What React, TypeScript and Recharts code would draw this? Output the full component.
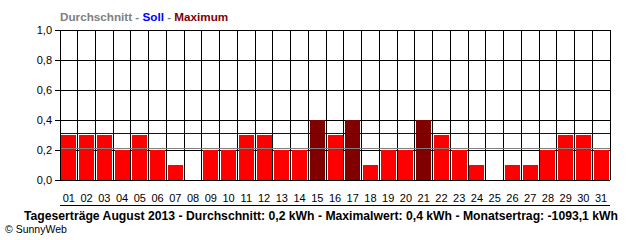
import { BarChart, Bar, Cell, XAxis, YAxis, CartesianGrid, ReferenceLine } from 'recharts';

const days = ['01', '02', '03', '04', '05', '06', '07', '08', '09', '10', '11', '12', '13', '14', '15', '16',
    '17', '18', '19', '20', '21', '22', '23', '24', '25', '26', '27', '28', '29', '30', '31'];
const yields = [0.3, 0.3, 0.3, 0.2, 0.3, 0.2, 0.1, 0, 0.2, 0.2, 0.3, 0.3, 0.2, 0.2, 0.4, 0.3,
    0.4, 0.1, 0.2, 0.2, 0.4, 0.3, 0.2, 0.1, 0, 0.1, 0.1, 0.2, 0.3, 0.3, 0.2];
const yTicks = [0, 0.2, 0.4, 0.6, 0.8, 1.0];
const average = 0.207;
const target = 0.309;
const maxValue = Math.max(...yields);

const data = days.map((day, i) => ({ day, pos: i + 0.5, value: yields[i] }));
// borders between the day cells, used for the vertical grid lines
const cellEdges = [...days.map((_, i) => i), days.length];

const fmt = (v: number) => v.toFixed(1).replace('.', ',');
const font = '"Liberation Sans", Arial, sans-serif';

export default function App() {
    return (
        <div style={{ position: 'absolute', left: 0, top: 0, width: 640, height: 240, background: '#fff' }}>
            <BarChart
                width={640}
                height={240}
                data={data}
                margin={{ top: 30, right: 30, left: 0, bottom: 30 }}
                barCategoryGap={1.4}
            >
                <CartesianGrid xAxisId="grid" vertical={false} stroke="#000" shapeRendering="crispEdges" />
                <XAxis
                    xAxisId="grid"
                    type="number"
                    dataKey="pos"
                    domain={[0, days.length]}
                    ticks={cellEdges}
                    allowDataOverflow
                    tick={false}
                    tickSize={5}
                    height={5}
                    tickLine={{ stroke: '#000', shapeRendering: 'crispEdges' }}
                    axisLine={{ stroke: '#000', shapeRendering: 'crispEdges' }}
                />
                <XAxis
                    xAxisId="cat"
                    dataKey="day"
                    height={25}
                    axisLine={false}
                    tickLine={false}
                    tickSize={0}
                    tickMargin={14}
                    interval={0}
                    tick={{ fontSize: 11, fill: '#000', fontFamily: font }}
                />
                <YAxis
                    domain={[0, 1]}
                    ticks={yTicks}
                    width={60}
                    tickSize={5}
                    tickMargin={3}
                    tickFormatter={fmt}
                    tickLine={{ stroke: '#000', shapeRendering: 'crispEdges' }}
                    axisLine={{ stroke: '#000', shapeRendering: 'crispEdges' }}
                    tick={{ fontSize: 11, fill: '#000', fontFamily: font }}
                />
                {cellEdges.map((edge) => (
                    <ReferenceLine key={edge} xAxisId="grid" x={edge} stroke="#000" shapeRendering="crispEdges" />
                ))}
                <Bar dataKey="value" xAxisId="cat" isAnimationActive={false}>
                    {yields.map((v, i) => (
                        <Cell key={days[i]} fill={v === maxValue ? '#800000' : '#ff0000'} shapeRendering="crispEdges" />
                    ))}
                </Bar>
                <ReferenceLine xAxisId="cat" y={target} stroke="#0000c0" shapeRendering="crispEdges" />
                <ReferenceLine xAxisId="cat" y={average} stroke="#808080" shapeRendering="crispEdges" />
            </BarChart>
            <svg width={640} height={240} style={{ position: 'absolute', left: 0, top: 0, pointerEvents: 'none' }}>
                <text x={60} y={21} fontFamily={font} fontSize={11.7} fontWeight="bold">
                    <tspan fill="#808080">Durchschnitt - </tspan>
                    <tspan fill="#0000ff">Soll</tspan>
                    <tspan fill="#808080"> - </tspan>
                    <tspan fill="#800000">Maximum</tspan>
                </text>
                <text x={24} y={220} fontFamily={font} fontSize={12} fontWeight="bold" fill="#000" textLength={594} lengthAdjust="spacingAndGlyphs">
                    Tageserträge August 2013 - Durchschnitt: 0,2 kWh - Maximalwert: 0,4 kWh - Monatsertrag: -1093,1 kWh
                </text>
                <text x={5} y={233} fontFamily={font} fontSize={10.5} fill="#000">
                    © SunnyWeb
                </text>
            </svg>
        </div>
    );
}
